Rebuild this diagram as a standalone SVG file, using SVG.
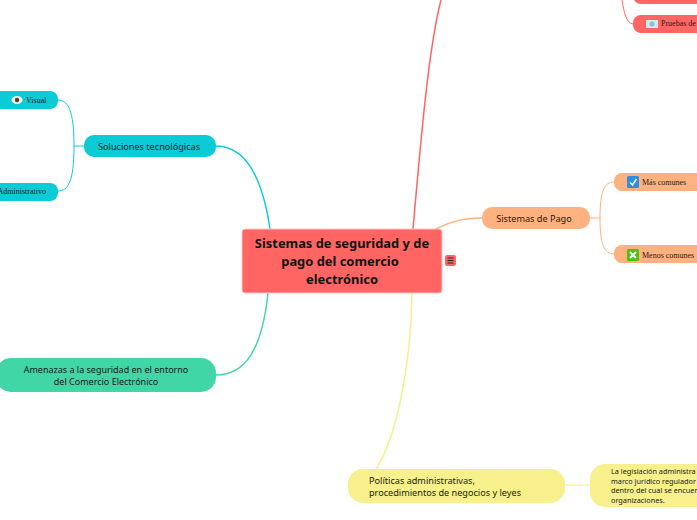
<svg xmlns="http://www.w3.org/2000/svg" width="697" height="520" viewBox="0 0 697 520">
<style>
.s{font-family:"Noto Sans","Open Sans",sans-serif;fill:#1a1a1a;font-size:9.150px}
.t{font-family:"Liberation Serif","DejaVu Serif",serif;font-size:8px;fill:#1a1a1a}
.c{fill:none;stroke-width:1.500}
.d{fill:none;stroke-width:1}
</style>
<rect width="697" height="520" fill="#fff"/>
<g id="connectors">
<path class="c" d="M216 146C245 146 262 175 270 229" stroke="#0bcbd6"/>
<path class="c" d="M216 375C245 375 262 350 268 293" stroke="#41d6a6"/>
<path class="c" d="M413 229C420 150 428 50 441 0" stroke="#ff6663"/>
<path class="c" d="M436 229C450 222 462 218 482 218" stroke="#ffb27f"/>
<path class="c" d="M412 293C411 370 395 440 376 469" stroke="#f7f08c"/>
<path class="d" d="M84 146H74" stroke="#0bcbd6"/>
<path class="d" d="M58 100C68 100 74 110 74 146C74 182 68 191 58 191" stroke="#0bcbd6"/>
<path class="d" d="M590 218H600" stroke="#ffb27f"/>
<path class="d" d="M614 182C604 182 600 192 600 218C600 244 604 254 614 254" stroke="#ffb27f"/>
<path class="d" d="M565 485H590" stroke="#f7f08c"/>
<path class="d" d="M622 0C624 12 626 23 633 24" stroke="#ff6663"/>
</g>
<g id="root">
<rect x="242" y="229" width="200" height="64" rx="3" fill="#ff6663" stroke="#ffc4c2" stroke-width="1"/>
<text text-anchor="middle" font-family="'Noto Sans',sans-serif" font-weight="700" font-size="12.900" fill="#111"><tspan x="342" y="248">Sistemas de seguridad y de</tspan><tspan x="340" y="266">pago del comercio</tspan><tspan x="342" y="284">electrónico</tspan></text>
<rect x="445" y="255" width="11" height="11" rx="2" fill="#ff6663"/>
<path d="M447.500 258H453.500M447.500 260.500H453.500M447.500 263H453.500" stroke="#222" stroke-width="1"/>
</g>
<g id="soluciones">
<rect x="84" y="135" width="132" height="22" rx="10" fill="#0bcbd6"/>
<text class="s" x="149" y="150" text-anchor="middle">Soluciones tecnológicas</text>
</g>
<g id="visual">
<rect x="-20" y="91" width="78" height="18" rx="8" fill="#0bcbd6"/>
<ellipse cx="17" cy="100" rx="5.500" ry="4" fill="#f3f3ee"/><circle cx="17" cy="100" r="2.200" fill="#5c3a22"/>
<text class="t" x="26" y="103">Visual</text>
</g>
<g id="administrativo">
<rect x="-30" y="183" width="88" height="18" rx="8" fill="#0bcbd6"/>
<text class="t" x="46" y="194" text-anchor="end">Administrativo</text>
</g>
<g id="amenazas">
<rect x="-4" y="358" width="220" height="34" rx="15" fill="#41d6a6"/>
<text class="s" style="font-size:9px" text-anchor="middle"><tspan x="106" y="373">Amenazas a la seguridad en el entorno</tspan><tspan x="106" y="385">del Comercio Electrónico</tspan></text>
</g>
<g id="pago">
<rect x="482" y="207" width="108" height="22" rx="10" fill="#ffb27f"/>
<text class="s" x="534" y="222" text-anchor="middle">Sistemas de Pago</text>
</g>
<g id="mas">
<rect x="614" y="173" width="100" height="18" rx="8" fill="#ffb27f"/>
<rect x="627" y="176" width="12" height="12" rx="1.500" fill="#2a8fdc"/>
<path d="M630 182.500L632.500 185L636.500 179" stroke="#fff" stroke-width="1.500" fill="none"/>
<text class="t" x="642" y="185">Más comunes</text>
</g>
<g id="menos">
<rect x="614" y="245" width="100" height="18" rx="8" fill="#ffb27f"/>
<rect x="627" y="249" width="12" height="12" rx="1.500" fill="#4fbf0f"/>
<path d="M630 252L636 258M636 252L630 258" stroke="#fff" stroke-width="2"/>
<text class="t" x="642" y="258">Menos comunes</text>
</g>
<g id="prueba-top">
<rect x="633" y="-14" width="80" height="18" rx="8" fill="#ff6663"/>
</g>
<g id="pruebas">
<rect x="633" y="15" width="80" height="18" rx="8" fill="#ff6663"/>
<rect x="646" y="20" width="12" height="8" fill="#dbe6ea"/><circle cx="652" cy="24" r="2.500" fill="#7fc4e0"/>
<text class="t" x="661" y="26">Pruebas de</text>
</g>
<g id="politicas">
<rect x="348" y="469" width="217" height="34" rx="15" fill="#f7f08c"/>
<text class="s"><tspan x="369" y="484">Políticas administrativas,</tspan><tspan x="369" y="496">procedimientos de negocios y leyes</tspan></text>
</g>
<g id="legislacion">
<rect x="590" y="464" width="140" height="43" rx="15" fill="#f7f08c"/>
<text class="s" style="font-size:7.300px"><tspan x="611" y="474">La legislación administra</tspan><tspan x="611" y="484">marco jurídico regulador</tspan><tspan x="611" y="493">dentro del cual se encuen</tspan><tspan x="611" y="503">organizaciones.</tspan></text>
</g>
</svg>
